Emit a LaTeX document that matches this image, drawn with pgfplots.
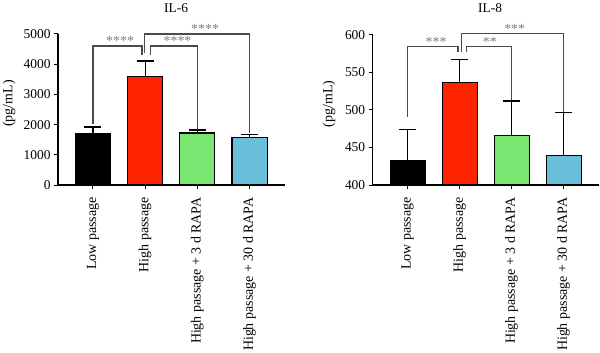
\documentclass[border=0pt]{standalone}
\usepackage{fontspec}
\setmainfont{Liberation Serif}
\usepackage{pgfplots}
\pgfplotsset{compat=1.18}
\definecolor{cRed}{RGB}{255,36,0}
\definecolor{cGreen}{RGB}{122,230,114}
\definecolor{cBlue}{RGB}{106,192,218}
\definecolor{cBr}{RGB}{75,75,75}
\definecolor{cStar}{RGB}{125,125,125}
\tikzset{
  br/.style={draw=cBr, line width=1.1bp},
  st/.style={text=cStar, font=\fontsize{14}{14}\selectfont, inner sep=0pt, anchor=south},
  ttl/.style={font=\fontsize{13.5}{15}\selectfont, anchor=center, inner sep=0pt},
}
\pgfplotsset{
  mystyle/.style={
    scale only axis,
    axis x line*=bottom, axis y line*=left,
    axis line style={line width=1.1bp, black},
    tick style={line width=1bp, black},
    tick align=outside,
    major tick length=4bp,
    xmin=-0.67, xmax=3.68,
    xtick={0,1,2,3},
    xticklabels={Low passage, High passage, High passage + 3 d RAPA, High passage + 30 d RAPA},
    x tick label style={rotate=90, anchor=east, font=\fontsize{14}{16}\selectfont},
    xticklabel shift=5bp,
    y tick label style={font=\fontsize{13.5}{15}\selectfont},
    /pgf/number format/assume math mode=true,
    /pgf/number format/set thousands separator={},
    ylabel={(pg/mL)},
    ylabel style={font=\fontsize{14}{16}\selectfont, rotate=0},
    clip=false,
  },
  mybar/.style={ybar, bar width=0.673, bar shift=0, draw=black, line width=1.1bp,
    error bars/y dir=plus, error bars/y explicit,
    error bars/error bar style={line width=1.1bp, black},
    error bars/error mark=-,
    error bars/error mark options={rotate=90, line width=1.1bp, black, mark size=8.5bp}},
}
\begin{document}
\begin{tikzpicture}
\useasboundingbox (0bp,0bp) rectangle (600bp,353bp);
% ---------- IL-6 ----------
\begin{axis}[mystyle, at={(58bp,168bp)}, anchor=south west,
  width=227bp, height=151bp,
  ymin=0, ymax=5000, ytick={0,1000,2000,3000,4000,5000},
  ylabel style={at={(axis description cs:-0.216,0.54)}, anchor=center},
]
\addplot[mybar, fill=black] coordinates {(0,1690) +- (0,230)};
\addplot[mybar, fill=cRed] coordinates {(1,3590) +- (0,515)};
\addplot[mybar, fill=cGreen] coordinates {(2,1722) +- (0,100)};
\addplot[mybar, fill=cBlue] coordinates {(3,1579) +- (0,100)};
\draw[br] (axis cs:0,2020) -- (axis cs:0,4603) -- (axis cs:0.94,4603) -- (axis cs:0.94,4305);
\draw[br] (axis cs:1.10,4305) -- (axis cs:1.10,4603) -- (axis cs:2,4603) -- (axis cs:2,1854);
\draw[br] (axis cs:0.99,4370) -- (axis cs:0.99,5000) -- (axis cs:3,5000) -- (axis cs:3,1722);
\node[st] at (axis cs:0.52,4600) {****};
\node[st] at (axis cs:1.62,4600) {****};
\node[st] at (axis cs:2.15,5000) {****};
\node[ttl] at (rel axis cs:0.52,1.172) {IL-6};
\end{axis}
% ---------- IL-8 ----------
\begin{axis}[mystyle, at={(372.7bp,168bp)}, anchor=south west,
  width=226.3bp, height=150bp,
  ymin=400, ymax=600, ytick={400,450,500,550,600},
  ylabel style={at={(axis description cs:-0.193,0.54)}, anchor=center},
]
\addplot[mybar, fill=black] coordinates {(0,432.4) +- (0,41.6)};
\addplot[mybar, fill=cRed] coordinates {(1,537) +- (0,30)};
\addplot[mybar, fill=cGreen] coordinates {(2,466) +- (0,46)};
\addplot[mybar, fill=cBlue] coordinates {(3,439.6) +- (0,56.8)};
\draw[br] (axis cs:0,491) -- (axis cs:0,584.4) -- (axis cs:0.97,584.4) -- (axis cs:0.97,577);
\draw[br] (axis cs:1.13,577) -- (axis cs:1.13,584.4) -- (axis cs:2,584.4) -- (axis cs:2,513);
\draw[br] (axis cs:1.03,577) -- (axis cs:1.03,602.3) -- (axis cs:3,602.3) -- (axis cs:3,497.3);
\node[st] at (axis cs:0.55,584.4) {***};
\node[st] at (axis cs:1.58,584.4) {**};
\node[st] at (axis cs:2.06,602.3) {***};
\node[ttl] at (rel axis cs:0.519,1.18) {IL-8};
\end{axis}
\end{tikzpicture}
\end{document}
